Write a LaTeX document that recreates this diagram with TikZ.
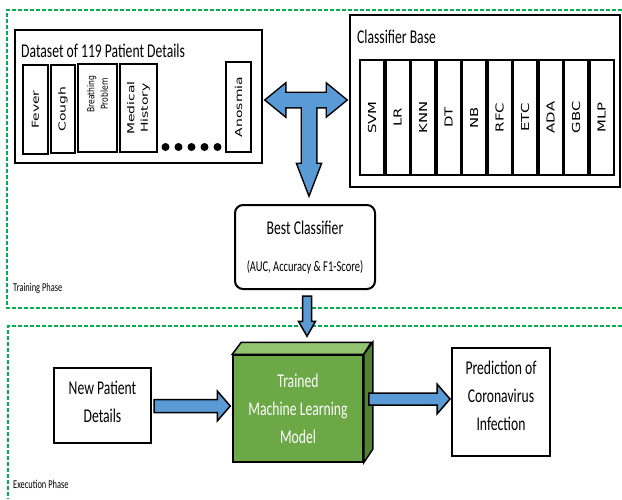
\documentclass[tikz,border=0pt]{standalone}
\usepackage{fontspec}
\usepackage{graphicx}
\setmainfont{Carlito}[FakeStretch=0.7]
\newfontfamily\featfont{DejaVu Sans}
\usepackage{tikz}
\usetikzlibrary{calc}

\definecolor{arrowblue}{RGB}{91,155,213}
\definecolor{phasegreen}{RGB}{0,176,80}
\definecolor{modelgreen}{RGB}{108,168,70}
\definecolor{modeltop}{RGB}{146,196,112}
\definecolor{modelside}{RGB}{84,130,53}

% rotated labels are drawn long and thin
\newcommand{\featwide}[1]{\scalebox{1.45}[1]{#1}}
\newcommand{\featslim}[1]{\scalebox{0.8}[1]{#1}}
\newcommand{\clfwide}[1]{\scalebox{1.35}[1]{#1}}

% block arrow between two points: shaft half width / head half width / head length
\tikzset{
  fat/.style n args={3}{to path={
      ($(\tikztostart)!#1!90:(\tikztotarget)$)
      -- ($(\tikztotarget)!#3!(\tikztostart)!#1!-90:(\tikztostart)$)
      -- ($(\tikztotarget)!#3!(\tikztostart)!#2!-90:(\tikztostart)$)
      -- (\tikztotarget)
      -- ($(\tikztotarget)!#3!(\tikztostart)!#2!90:(\tikztostart)$)
      -- ($(\tikztotarget)!#3!(\tikztostart)!#1!90:(\tikztostart)$)
      -- ($(\tikztostart)!#1!-90:(\tikztotarget)$)
      -- cycle}}
}

\begin{document}
\begin{tikzpicture}[x=1pt, y=-1pt, font=\fontsize{19.5}{28}\selectfont]
    \tikzstyle{phase}=[draw=phasegreen, line width=1.5pt, dash pattern=on 4pt off 2pt]
    \tikzstyle{phase label}=[anchor=base west, inner sep=0pt, font=\fontsize{12}{14}\selectfont]
    \tikzstyle{panel}=[draw, line width=2pt, inner sep=0pt]
    \tikzstyle{title}=[anchor=base west, inner sep=0pt]
    \tikzstyle{feature}=[panel, rotate=90, align=center, font=\featfont\fontsize{9.6}{13.5}\selectfont]
    \tikzstyle{classifier}=[panel, rotate=90, minimum width=115pt, minimum height=24pt, font=\featfont\fontsize{11}{13}\selectfont]
    \tikzstyle{block}=[panel, align=center]
    \tikzstyle{block arrow}=[draw=black, fill=arrowblue, line width=1.5pt, line join=miter]

    \useasboundingbox (0,0) rectangle (622,499);

    % Training and execution phases
    \draw[phase] (622,10) -- (7,10) -- (7,308) -- (622,308);
    \draw[phase] (622,326) -- (8,326) -- (8,499);
    \node[phase label] (train) at (13,291) {Training Phase};
    \node[phase label] (exec) at (13,488) {Execution Phase};

    % Patient dataset
    \node[panel, minimum width=247pt, minimum height=133pt] (ds) at (138.5,96.5) {};
    \node[title] (ds-title) at (21,57) {Dataset of 119 Patient Details};
    \node[feature, minimum width=89pt, minimum height=25pt] (fever) at (35.5,109.5) {\featwide{Fever}};
    \node[feature, minimum width=88pt, minimum height=24pt] (cough) at (63,109) {\featwide{Cough}};
    \node[feature, minimum width=88pt, minimum height=39pt] (breath) at (97.5,108)
        {\hspace*{28pt}\featslim{Breathing}\\\hspace*{28pt}\featslim{Problem}};
    \node[feature, minimum width=88pt, minimum height=37pt] (medical) at (138.5,108) {\featwide{Medical}\\\featwide{History}};
    \node[feature, minimum width=90pt, minimum height=25pt] (anosmia) at (238.5,107) {\featwide{Anosmia}};
    \foreach \x in {0,...,4}
        \fill (165.5+13*\x,147) circle (4pt);

    % Classifier base
    \node[panel, minimum width=270pt, minimum height=172pt] (cb) at (485,101) {};
    \node[title] (cb-title) at (357,43) {Classifier Base};
    \foreach \clf [count=\i from 0] in {SVM,LR,KNN,DT,NB,RFC,ETC,ADA,GBC,MLP}
        \node[classifier] (\clf) at (372+25.5*\i,117.5) {\clfwide{\clf}};

    % Best classifier
    \node[block, rounded corners=8pt, minimum width=140pt, minimum height=84pt] (bc) at (305,247)
        {Best Classifier\\[9pt]{\fontsize{15}{18}\selectfont(AUC, Accuracy \& F1-Score)}};

    % Execution
    \node[block, minimum width=97pt, minimum height=75pt, text depth=8pt] (np) at (102.5,405.5) {New Patient\\Details};
    \node[block, line width=1.5pt, fill=modelgreen, text=white, minimum width=130pt, minimum height=107pt] (ml) at (298,408.5)
        {Trained\\Machine Learning\\Model};
    \draw[line width=1.5pt, fill=modeltop] (ml.north west) -- ++(9,-12) -- ++(130,0) -- (ml.north east) -- cycle;
    \draw[line width=1.5pt, fill=modelside] (ml.north east) -- ++(9,-12) -- ++(0,107) -- (ml.south east) -- cycle;
    \node[block, minimum width=98pt, minimum height=108pt, text depth=12pt] (pr) at (501,402) {Prediction of\\Coronavirus\\Infection};

    % Arrows
    \coordinate (tee) at (309,100);
    \coordinate (tee-l) at ($(tee -| ds.east)+(3,0)$);
    \coordinate (tee-r) at ($(tee -| cb.west)+(-3,0)$);
    \coordinate (tee-d) at ($(bc.north)+(4,-10)$);
    \path[draw, line width=3pt, line join=miter, fat={7pt}{15.5pt}{19pt}] (tee) to (tee-l) (tee) to (tee-r);
    \path[draw, line width=3pt, line join=miter, fat={7pt}{11.5pt}{30pt}] (tee) to (tee-d);
    \path[fill=arrowblue, fat={7pt}{15.5pt}{19pt}] (tee) to (tee-l) (tee) to (tee-r);
    \path[fill=arrowblue, fat={7pt}{11.5pt}{30pt}] (tee) to (tee-d);

    \coordinate (bc-out) at ($(bc.south)+(2,6)$);
    \coordinate (ml-top) at ($(ml.north)+(9,-18)$);
    \draw[block arrow, fat={4.5pt}{8.5pt}{15pt}] (bc-out) to (ml-top);

    \coordinate (np-out) at ($(np.east)+(2,0.5)$);
    \coordinate (ml-in) at ($(np.east -| ml.west)+(-2,0.5)$);
    \draw[block arrow, fat={6.5pt}{15pt}{13pt}] (np-out) to (ml-in);

    \coordinate (ml-out) at ($(ml.east)+(5,-9.5)$);
    \coordinate (pr-in) at ($(pr.west)+(-1,-3)$);
    \draw[block arrow, fat={6pt}{15pt}{13pt}] (ml-out) to (pr-in);
\end{tikzpicture}
\end{document}
